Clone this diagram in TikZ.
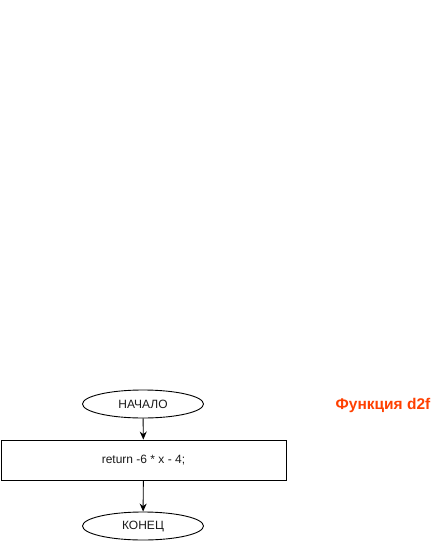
\documentclass[tikz,border=0pt]{standalone}
\usepackage{fontspec}
\setmainfont{Liberation Sans}
\usepackage{xcolor}
\usetikzlibrary{shapes.geometric,arrows.meta,positioning}
\definecolor{bg}{HTML}{FFFFFF}
\definecolor{line}{HTML}{000000}
\definecolor{text}{HTML}{1A1A1A}
\definecolor{title}{HTML}{FF4000}
\tikzset{
  term/.style={ellipse, draw=line, line width=0.9pt, minimum width=121pt, minimum height=28pt, inner sep=0pt, text=text, font=\fontsize{12}{14}\selectfont},
  proc/.style={rectangle, draw=line, line width=0.9pt, minimum width=285pt, minimum height=40pt, inner sep=0pt, text=text, font=\fontsize{12}{14}\selectfont},
  flow/.style={draw=line, line width=0.9pt, -{Stealth[length=8pt,width=7pt]}},
  head/.style={text=title, font=\bfseries\fontsize{15.5}{18}\selectfont},
}
\begin{document}
\begin{tikzpicture}[x=1pt,y=-1pt]
  \useasboundingbox[fill=bg] (0,0) rectangle (440,541);
  \node[term] (start) at (143,404) {НАЧАЛО};
  \node[proc] (ret) at (143.5,460) {return -6 * x - 4;};
  \node[term] (stop) at (143,526) {КОНЕЦ};
  \draw[flow] (start) -- (ret);
  \draw[flow] (ret) -- (stop);
  \node[head] (name) at (383,405) {Функция d2f};
\end{tikzpicture}
\end{document}
